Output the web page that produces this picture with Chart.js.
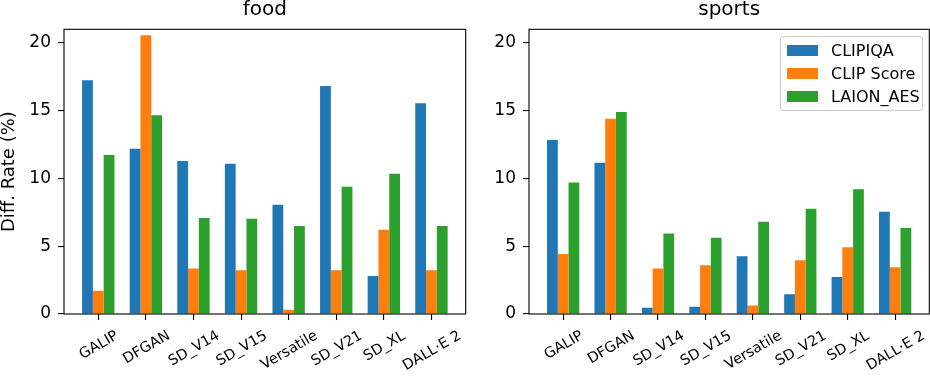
<!DOCTYPE html>
<html>
<head>
<meta charset="utf-8">
<script src="https://cdn.jsdelivr.net/npm/chart.js@4/dist/chart.umd.min.js"></script>
<style>
  body { margin: 0; background: #fff; }
  #wrap { position: relative; width: 930px; height: 376px; font-family: "DejaVu Sans", sans-serif; }
  #food { position: absolute; left: 0; top: 0; }
  #sports { position: absolute; left: 470px; top: 0; }
  .legend {
    position: absolute; left: 780px; top: 36px; width: 141px; height: 73px;
    border: 1px solid #cccccc; border-radius: 3px; background: rgba(255,255,255,0.8);
  }
  .legend .row { position: absolute; left: 6px; height: 20px; display: flex; align-items: center; font-size: 16px; color: #000; white-space: nowrap; }
  .legend .sw { width: 31px; height: 11px; margin-right: 13px; }
</style>
</head>
<body>
<div id="wrap">
  <canvas id="food" width="470" height="376"></canvas>
  <canvas id="sports" width="460" height="376"></canvas>
  <div class="legend">
    <div class="row" style="top:3px"><span class="sw" style="background:#1f77b4"></span>CLIPIQA</div>
    <div class="row" style="top:26px"><span class="sw" style="background:#ff7f0e"></span>CLIP Score</div>
    <div class="row" style="top:49px"><span class="sw" style="background:#2ca02c"></span>LAION_AES</div>
  </div>
</div>
<script>
const models = ["GALIP", "DFGAN", "SD_V14", "SD_V15", "Versatile", "SD_V21", "SD_XL", "DALL·E 2"];
const metrics = ["CLIPIQA", "CLIP Score", "LAION_AES"];
const colors = ["#1f77b4", "#ff7f0e", "#2ca02c"];

const foodClipiqa   = [17.24, 12.19, 11.28, 11.08, 8.05, 16.82, 2.81, 15.54];
const foodClipScore = [1.72, 20.57, 3.35, 3.23, 0.32, 3.23, 6.21, 3.23];
const foodLaionAes  = [11.72, 14.66, 7.09, 7.02, 6.50, 9.38, 10.34, 6.50];

const sportsClipiqa   = [12.83, 11.16, 0.47, 0.54, 4.26, 1.45, 2.73, 7.54];
const sportsClipScore = [4.43, 14.41, 3.35, 3.60, 0.62, 3.97, 4.93, 3.45];
const sportsLaionAes  = [9.70, 14.90, 5.94, 5.62, 6.80, 7.76, 9.21, 6.35];

const yTicks = [0, 5, 10, 15, 20];

const FONT = '"DejaVu Sans"';
Chart.defaults.font.family = FONT;
Chart.defaults.color = "#000";

// matplotlib-like box around the plot area
const framePlugin = {
  id: "frame",
  afterDatasetsDraw(chart) {
    const { ctx, chartArea: { left, top, right, bottom } } = chart;
    ctx.save();
    ctx.strokeStyle = "#000";
    ctx.lineWidth = 1.1;
    ctx.strokeRect(left, top, right - left, bottom - top);
    ctx.restore();
  },
};

// rotated tick labels centred under each tick (matplotlib rotation=30)
const xLabelPlugin = {
  id: "xLabels",
  afterDraw(chart) {
    const { ctx, scales: { x }, chartArea } = chart;
    const angle = (30 * Math.PI) / 180;
    const capH = 10.5;
    ctx.save();
    ctx.font = `14.5px ${FONT}`;
    ctx.fillStyle = "#000";
    ctx.textAlign = "center";
    ctx.textBaseline = "alphabetic";
    models.forEach((name, i) => {
      const w = ctx.measureText(name).width;
      const boxH = w * Math.sin(angle) + capH * Math.cos(angle);
      ctx.save();
      ctx.translate(x.getPixelForValue(i), chartArea.bottom + 15 + boxH / 2);
      ctx.rotate(-angle);
      ctx.fillText(name, 0, capH / 2);
      ctx.restore();
    });
    ctx.restore();
  },
};

function makeChart(canvas, title, series, opts) {
  const axisGrid = { drawOnChartArea: false, drawTicks: true, tickLength: 6, color: "#000", lineWidth: 1.1, offset: false };
  return new Chart(canvas, {
    type: "bar",
    data: {
      datasets: series.map((values, k) => ({
        label: metrics[k],
        data: values.map((v, i) => ({ x: i, y: v })),
        backgroundColor: colors[k],
        borderWidth: 0,
        categoryPercentage: 0.68,
        barPercentage: 1,
      })),
    },
    options: {
      responsive: false,
      animation: false,
      layout: { padding: { left: 0, right: opts.padRight, top: 0, bottom: 0 } },
      plugins: {
        legend: { display: false },
        tooltip: { enabled: false },
        title: {
          display: true,
          text: title,
          fullSize: false,
          color: "#000",
          font: { family: FONT, size: 20, weight: "normal", lineHeight: 1 },
          padding: { top: 0, bottom: 9.3 },
        },
      },
      scales: {
        x: {
          type: "linear",
          min: -0.72,
          max: 7.72,
          offset: false,
          afterBuildTicks: (s) => { s.ticks = models.map((_, i) => ({ value: i })); },
          afterFit: (s) => { s.height = 62; },
          grid: axisGrid,
          border: { display: false },
          ticks: { display: false },
        },
        y: {
          min: 0,
          max: 21,
          afterBuildTicks: (s) => { s.ticks = yTicks.map((v) => ({ value: v })); },
          afterFit: (s) => { s.width = opts.yWidth; },
          grid: axisGrid,
          border: { display: false },
          ticks: { color: "#000", padding: 7, font: { family: FONT, size: 17 } },
          title: {
            display: !!opts.yTitle,
            text: opts.yTitle || "",
            color: "#000",
            font: { family: FONT, size: 18, lineHeight: 1 },
            padding: { top: 0, bottom: 0 },
          },
        },
      },
    },
    plugins: [framePlugin, xLabelPlugin],
  });
}

makeChart(document.getElementById("food"), "food",
  [foodClipiqa, foodClipScore, foodLaionAes],
  { yWidth: 64, padRight: 4.3, yTitle: "Diff. Rate (%)" });

makeChart(document.getElementById("sports"), "sports",
  [sportsClipiqa, sportsClipScore, sportsLaionAes],
  { yWidth: 59, padRight: 0.7 });
</script>
</body>
</html>
